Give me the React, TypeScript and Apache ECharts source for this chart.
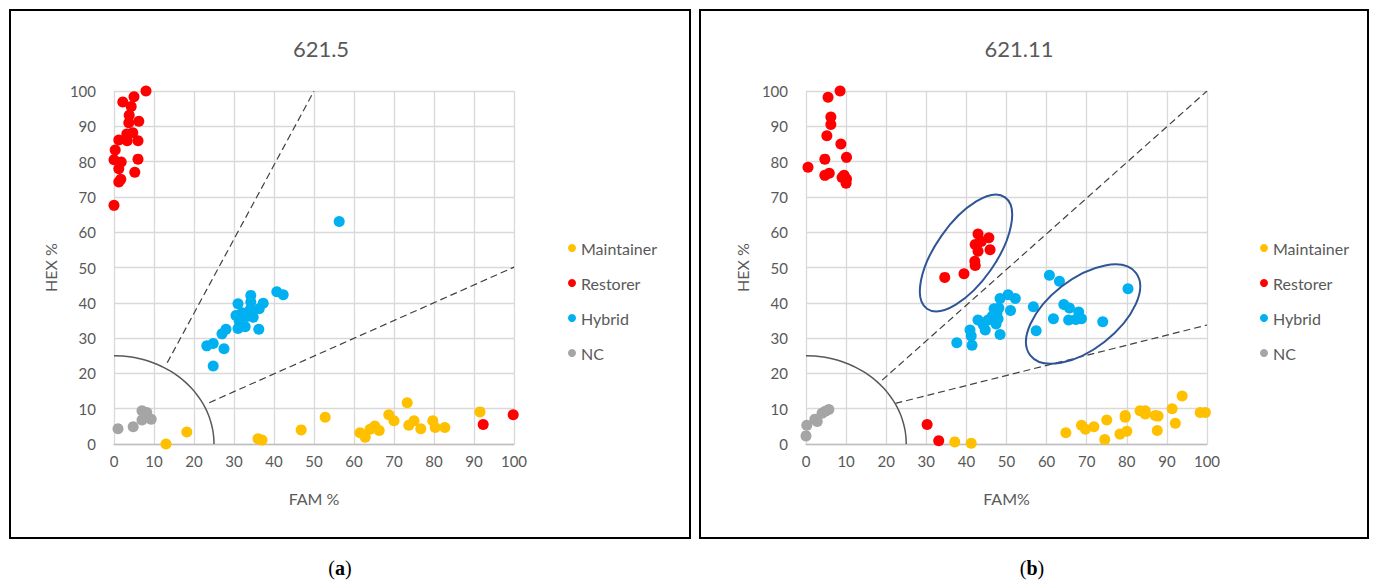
import React, { useEffect, useRef } from "react";
import * as echarts from "echarts";

const FONT = "Lato, 'Open Sans', sans-serif";
const TEXT = "#595959";
const COLORS = { Maintainer: "#FFC000", Restorer: "#FF0000", Hybrid: "#00B0F0", NC: "#A5A5A5" };
const GROUPS = ["Maintainer", "Restorer", "Hybrid", "NC"];
const TITLES = ["621.5", "621.11"];
const X_NAMES = ["FAM %", "FAM%"];
const Y_NAME = "HEX %";
const CAPTIONS = ["a", "b"];

// ---- chart (a) 621.5 ----
const leftMaintainer = [[13,0],[18.2,3.4],[36,1.5],[37,1.1],[46.8,4],[52.8,7.6],[61.5,3.2],[62.8,1.9],[64,4.2],[65.2,5.1],[66.3,3.8],[68.7,8.3],[70,6.6],[73.3,11.7],[73.7,5.3],[75,6.6],[76.7,4.3],[79.7,6.6],[80.3,4.7],[82.7,4.7],[91.5,9.1]];
const leftRestorer = [[8,100],[2.2,96.9],[5,98.4],[4.3,95.6],[3.8,93.1],[3.7,91],[6.2,91.4],[3.2,87.8],[4.7,88.2],[1.2,86.1],[3.3,85.9],[6,85.9],[0.3,83.3],[0,80.5],[1.8,79.9],[6,80.7],[1.2,78],[5.2,77],[1.7,75],[1.2,74.2],[0,67.6],[92.3,5.5],[99.8,8.3]];
const leftHybrid = [[56.3,63],[40.7,43.1],[42.3,42.3],[34.2,42.1],[37.3,39.9],[31,39.7],[34.2,40.2],[36.3,38.3],[30.5,36.4],[32,37.2],[33.2,36.1],[34.8,35.9],[34,38],[31.3,34.9],[31,32.7],[32.8,33.2],[36.2,32.5],[28,32.5],[27,31.2],[27.5,27],[24.8,28.5],[23.2,27.8],[24.8,22.1]];
const leftNC = [[1,4.3],[4.8,4.9],[7,9.4],[8.2,8.9],[7,6.8],[9.3,7]];
const leftGuides = [[[13.3,23],[50,100]], [[23.8,11.7],[100,50.1]]];

// ---- chart (b) 621.11 ----
const rightMaintainer = [[37.1,0.6],[41.2,0.2],[64.8,3.2],[68.7,5.3],[69.7,4.2],[71.8,4.9],[75,6.8],[74.5,1.3],[78.3,2.8],[80,3.6],[79.6,8.1],[79.6,7.6],[83.3,9.4],[84.6,9.4],[84.6,8.5],[87.1,8.1],[87.8,7.9],[87.6,3.8],[91.3,10],[92.1,5.9],[93.8,13.6],[98.3,8.9],[99.6,8.9]];
const rightRestorer = [[8.5,100],[5.5,98.2],[6.2,92.6],[6.2,90.5],[5.2,87.3],[8.7,85],[4.7,80.7],[10.1,81.2],[0.5,78.4],[4.7,76.1],[5.8,76.7],[9,75.5],[10.1,75.1],[9.5,76.1],[10,73.9],[42.9,59.5],[45.6,58.4],[42.2,56.5],[43.7,57.4],[42.9,54.6],[45.9,55],[42.1,51.8],[42.2,50.6],[34.6,47.2],[39.4,48.2],[30.2,5.5],[33.1,0.9]];
const rightHybrid = [[60.7,47.8],[63.2,46.1],[80.3,44],[48.4,41.2],[50.4,42.3],[52.2,41.2],[56.7,38.9],[64.3,39.5],[65.7,38.5],[68,37.4],[61.7,35.5],[65.5,35.1],[67.3,35.3],[68.7,35.5],[74,34.6],[57.4,32.1],[46.9,38.3],[48.1,38.5],[51,37.8],[47.6,37],[46.4,36.1],[45.4,35.1],[47.9,35.5],[42.9,35.1],[44.2,33.8],[44.7,32.3],[47.4,34],[40.9,32.3],[41.2,30.6],[48.4,31],[37.6,28.7],[41.4,28]];
const rightNC = [[0,2.3],[0.2,5.3],[2.2,7],[2.8,6.4],[4,8.7],[4.8,9.3],[5.7,9.8]];
const rightGuides = [[[19,18.1],[100,100]], [[22.3,11.5],[100,33.7]]];
// ellipse annotations: centre in data units, semi-axes in px, tilt in degrees
const rightEllipses = [{ c: [39.9, 54.1], rx: 68, ry: 30, deg: 55 }, { c: [69.1, 36.8], rx: 67, ry: 35, deg: 38 }];

const ARC_RADIUS = 25;
const ARC_ANGLES = [0, 5, 10, 15, 20, 25, 30, 35, 40, 45, 50, 55, 60, 65, 70, 75, 80, 85, 90];
const arcPoints = ARC_ANGLES.map((d) => [ARC_RADIUS * Math.cos((d * Math.PI) / 180), ARC_RADIUS * Math.sin((d * Math.PI) / 180)]);

const GRIDS = [
  { left: 114, top: 91, width: 400, height: 353 },
  { left: 806, top: 91, width: 401, height: 353 },
];
const TITLE_X = [316, 1014];
const LEGEND_X = [563, 1255];
const CAPTION_X = [340, 1032];

const panelData = [
  { Maintainer: leftMaintainer, Restorer: leftRestorer, Hybrid: leftHybrid, NC: leftNC, guides: leftGuides },
  { Maintainer: rightMaintainer, Restorer: rightRestorer, Hybrid: rightHybrid, NC: rightNC, guides: rightGuides },
];

function buildOption() {
  const series: any[] = [];
  panelData.forEach((p: any, i) => {
    GROUPS.forEach((g) => {
      series.push({
        type: "scatter", name: g, xAxisIndex: i, yAxisIndex: i, data: p[g],
        symbolSize: 11, itemStyle: { color: (COLORS as any)[g], opacity: 1 }, z: 5,
      });
    });
    p.guides.forEach((seg: number[][]) => {
      series.push({
        type: "line", xAxisIndex: i, yAxisIndex: i, data: seg, showSymbol: false, symbol: "none", silent: true,
        lineStyle: { color: "#404040", width: 1.2, type: [7, 4] }, z: 3,
      });
    });
    series.push({
      type: "line", xAxisIndex: i, yAxisIndex: i, data: arcPoints, showSymbol: false, symbol: "none", silent: true,
      smooth: true, lineStyle: { color: "#595959", width: 1.5 }, z: 3,
    });
  });

  const axisCommon = {
    type: "value", min: 0, max: 100, interval: 10,
    axisTick: { show: false },
    splitLine: { show: true, lineStyle: { color: "#d9d9d9", width: 1.3 } },
    nameLocation: "middle",
    nameTextStyle: { color: TEXT, fontSize: 16, fontFamily: FONT },
  };

  return {
    animation: false,
    backgroundColor: "#ffffff",
    title: TITLES.map((t, i) => ({
      text: t, left: TITLE_X[i], top: 32, textAlign: "center",
      textStyle: { color: TEXT, fontSize: 22, fontWeight: "normal", fontFamily: FONT },
    })),
    legend: LEGEND_X.map((lx) => ({
      data: GROUPS, orient: "vertical", left: lx, top: 234, icon: "circle", itemWidth: 8, itemHeight: 8,
      itemGap: 17, selectedMode: false,
      textStyle: { color: TEXT, fontSize: 16, fontFamily: FONT, lineHeight: 18 },
    })),
    grid: GRIDS,
    xAxis: GRIDS.map((_, i) => ({
      ...axisCommon, gridIndex: i, name: X_NAMES[i], nameGap: 46,
      axisLine: { show: true, lineStyle: { color: "#bfbfbf", width: 1.3 } },
      axisLabel: { color: TEXT, fontSize: 15, fontFamily: FONT, margin: 9 },
    })),
    yAxis: GRIDS.map((_, i) => ({
      ...axisCommon, gridIndex: i, name: Y_NAME, nameGap: 56,
      axisLine: { show: false },
      axisLabel: { color: TEXT, fontSize: 15, fontFamily: FONT, margin: 18 },
    })),
    series,
  };
}

export default function App() {
  const ref = useRef<HTMLDivElement>(null);
  useEffect(() => {
    document.body.style.margin = "0";
    const chart = echarts.init(ref.current!, undefined, { renderer: "svg" });
    chart.setOption(buildOption() as any);

    const graphics: any[] = [
      { type: "rect", shape: { x: 10, y: 10, width: 680, height: 528 }, style: { fill: "none", stroke: "#000", lineWidth: 2 }, z: 100 },
      { type: "rect", shape: { x: 700, y: 10, width: 668, height: 528 }, style: { fill: "none", stroke: "#000", lineWidth: 2 }, z: 100 },
    ];
    CAPTIONS.forEach((c, i) => {
      graphics.push({
        type: "text", x: CAPTION_X[i], y: 568, z: 100,
        style: {
          text: "(" + "{b|" + c + "}" + ")", align: "center", verticalAlign: "middle",
          font: "20px 'Liberation Serif', serif", fill: "#000",
          rich: { b: { fontWeight: "bold", fontSize: 20, fontFamily: "'Liberation Serif', serif", fill: "#000" } },
        },
      });
    });
    rightEllipses.forEach((e) => {
      const p = chart.convertToPixel({ gridIndex: 1 } as any, e.c) as number[];
      graphics.push({
        type: "ellipse", x: p[0], y: p[1], rotation: (e.deg * Math.PI) / 180, z: 50,
        shape: { cx: 0, cy: 0, rx: e.rx, ry: e.ry },
        style: { fill: "none", stroke: "#2F5597", lineWidth: 2 },
      });
    });
    chart.setOption({ graphic: graphics } as any);
    return () => chart.dispose();
  }, []);
  return <div ref={ref} style={{ position: "absolute", left: 0, top: 0, width: 1378, height: 581 }} />;
}
